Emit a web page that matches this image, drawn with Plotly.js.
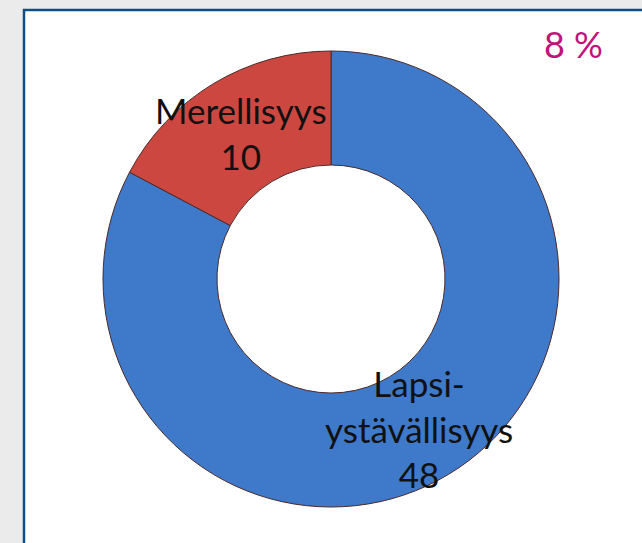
<!DOCTYPE html>
<html>
<head>
<meta charset="utf-8">
<script src="https://cdn.plot.ly/plotly-3.0.1.min.js"></script>
<style>
  html, body { margin: 0; padding: 0; background: #ebebeb; }
  #chart { width: 642px; height: 543px; }
</style>
</head>
<body>
<div id="chart"></div>
<script>
// Data
const categories = ["Lapsi-ystävällisyys", "Merellisyys"];
const values = [48, 10];
const sliceColors = ["#3f79c9", "#cd4741"];
const cornerNote = "8 %";

const W = 642, H = 543;
// label anchor points (pixels) for each slice label
const labelPos = [[419, 428], [241, 133]];

const annotations = categories.map((c, i) => ({
  text: c.replace("-", "-<br>") + "<br>" + values[i],
  x: labelPos[i][0] / W, y: 1 - labelPos[i][1] / H,
  xref: "paper", yref: "paper", showarrow: false,
  xanchor: "center", yanchor: "middle", align: "center",
  font: { family: "Lato, 'Open Sans', sans-serif", size: 35, color: "#111111" }
}));
annotations.push({
  text: cornerNote, x: 573 / W, y: 1 - 44 / H, xref: "paper", yref: "paper",
  showarrow: false, xanchor: "center", yanchor: "middle",
  font: { family: "Lato, 'Open Sans', sans-serif", size: 36, color: "#c0137c" }
});

const trace = {
  type: "pie",
  labels: categories,
  values: values,
  hole: 0.5,
  sort: false,
  direction: "clockwise",
  rotation: 0,
  textinfo: "none",
  hoverinfo: "label+value",
  marker: { colors: sliceColors, line: { color: "#4a2a2a", width: 1 } },
  domain: { x: [103 / W, 559 / W], y: [36 / H, 492 / H] },
  showlegend: false
};

const layout = {
  width: W, height: H,
  margin: { l: 0, r: 0, t: 0, b: 0 },
  paper_bgcolor: "#ebebeb",
  plot_bgcolor: "#ebebeb",
  showlegend: false,
  shapes: [{
    type: "rect", xref: "paper", yref: "paper", layer: "below",
    x0: 24 / W, x1: 1.05, y0: -0.05, y1: 1 - 10 / H,
    fillcolor: "#ffffff", line: { color: "#0c4f86", width: 2.5 }
  }],
  annotations: annotations
};

Plotly.newPlot("chart", [trace], layout, { displayModeBar: false, staticPlot: true });
</script>
</body>
</html>
